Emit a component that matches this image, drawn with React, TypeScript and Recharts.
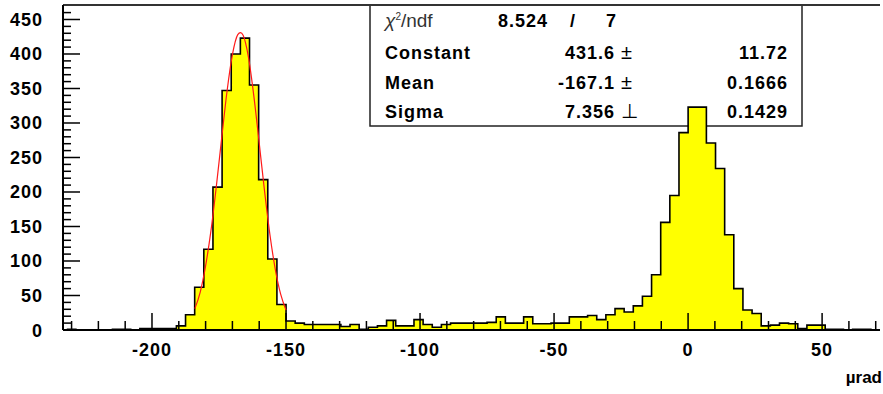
import React from 'react';
import { ComposedChart, Area, Line, XAxis, YAxis, ReferenceLine } from 'recharts';

// histogram counts per bin, left to right
const counts = [
  1, 0, 0, 0, 0, 1, 1, 0, 2, 2, 2, 2, 6, 22, 62, 117, 207, 347, 400, 423,
  355, 218, 103, 37, 13, 10, 8, 8, 8, 8, 5, 8, 1, 4, 6, 14, 6, 6, 15, 8,
  4, 8, 10, 10, 10, 10, 11, 19, 10, 10, 19, 9, 9, 10, 10, 19, 19, 21, 15, 22,
  31, 26, 35, 49, 80, 156, 195, 286, 323, 323, 271, 234, 138, 60, 29, 24, 6, 7, 10, 9,
  2, 7, 7, 1, 1, 0, 1, 1, 0,
];
const binStart = -231.8;
const binWidth = 3.409;

// gaussian fit curve
const fitX = [-184, -182, -180, -178, -176, -174, -172, -170, -168, -167, -166, -164, -162, -160, -158, -156, -154, -152, -150];
const fitY = [31, 55, 93, 144, 208, 278, 346, 399, 428, 431, 427, 395, 339, 271, 201, 138, 88, 52, 29];

const xDomain = [-233.2, 71.6];
const yDomain = [0, 471];

const statsRows = [
  { name: 'Constant', value: '431.6', sep: '±', error: '11.72' },
  { name: 'Mean', value: '-167.1', sep: '±', error: '0.1666' },
  { name: 'Sigma', value: '7.356', sep: '⊥', error: '0.1429' },
];
const chi2 = '8.524';
const ndf = '7';
const xTitle = 'µrad';

const FONT = '"Liberation Sans", Arial, Helvetica, sans-serif';

const xTicks: number[] = [];
for (let v = -230; v <= 70; v += 10) xTicks.push(v);
const yTicks: number[] = [];
for (let v = 0; v <= 460; v += 10) yTicks.push(v);

const rows: { x: number; n?: number; fit?: number }[] = [];
counts.forEach((c, i) => rows.push({ x: binStart + i * binWidth, n: c }));
rows.push({ x: binStart + counts.length * binWidth, n: counts[counts.length - 1] });
fitX.forEach((x, i) => rows.push({ x, fit: fitY[i] }));
rows.sort((a, b) => a.x - b.x);

const XTick = (props: any) => {
  const { x, y, payload } = props;
  const major = payload.value % 50 === 0;
  return (
    <g>
      <line x1={x} x2={x} y1={y} y2={y - (major ? 17 : 9)} stroke="#000" strokeWidth={1.5} />
      {major && (
        <text x={x} y={y + 26} textAnchor="middle" fontFamily={FONT} fontWeight="bold" fontSize={18} letterSpacing={1} fill="#000">
          {payload.value}
        </text>
      )}
    </g>
  );
};

const YTick = (props: any) => {
  const { x, y, payload } = props;
  const major = payload.value % 50 === 0;
  return (
    <g>
      <line x1={x} x2={x + (major ? 17 : 8)} y1={y} y2={y} stroke="#000" strokeWidth={1.5} />
      {major && (
        <text x={x - 20} y={y + 6.5} textAnchor="end" fontFamily={FONT} fontWeight="bold" fontSize={18} letterSpacing={1} fill="#000">
          {payload.value}
        </text>
      )}
    </g>
  );
};

const StatsBox = () => (
  <svg width={883} height={394} style={{ position: 'absolute', left: 0, top: 0 }}>
    <rect x={370} y={5} width={432} height={121} fill="#fff" stroke="#222" strokeWidth={1.5} />
    <text x={385} y={27} fontFamily={FONT} fontSize={19} fill="#333">
      <tspan fontStyle="italic">χ</tspan>
      <tspan fontSize={10} dy={-7}>2</tspan>
      <tspan dy={7}>/ndf</tspan>
    </text>
    <g fontFamily={FONT} fontWeight="bold" fontSize={18} letterSpacing={1} fill="#000">
      <text x={498} y={27}>{chi2}</text>
      <text x={570} y={27}>/</text>
      <text x={606} y={27}>{ndf}</text>
      {statsRows.map((r, i) => {
        const by = 59 + i * 29.5;
        return (
          <g key={r.name}>
            <text x={385} y={by}>{r.name}</text>
            <text x={615} y={by} textAnchor="end">{r.value}</text>
            <text x={621} y={by} fontWeight="normal" fontSize={20}>{r.sep}</text>
            <text x={788} y={by} textAnchor="end">{r.error}</text>
          </g>
        );
      })}
    </g>
  </svg>
);

export default function App() {
  return (
    <div style={{ position: 'absolute', left: 0, top: 0, width: 883, height: 394, background: '#fff' }}>
      <StatsBox />
      <ComposedChart width={883} height={394} data={rows} margin={{ top: 5, right: 3, bottom: 0, left: 0 }}>
        <Area
          dataKey="n"
          type="stepAfter"
          fill="#ffff00"
          fillOpacity={1}
          stroke="#000"
          strokeWidth={1.6}
          connectNulls
          dot={false}
          activeDot={false}
          isAnimationActive={false}
        />
        <Line
          dataKey="fit"
          type="monotone"
          stroke="#ff1a1a"
          strokeWidth={1.2}
          connectNulls
          dot={false}
          activeDot={false}
          isAnimationActive={false}
        />
        <ReferenceLine y={yDomain[1]} stroke="#333" strokeWidth={2} />
        <XAxis
          dataKey="x"
          type="number"
          domain={xDomain}
          allowDataOverflow
          ticks={xTicks}
          interval={0}
          tickSize={0}
          tickMargin={0}
          tick={<XTick />}
          height={64}
          axisLine={{ stroke: '#000', strokeWidth: 2 }}
        />
        <YAxis
          type="number"
          domain={yDomain}
          allowDataOverflow
          ticks={yTicks}
          interval={0}
          tickSize={0}
          tickMargin={0}
          tick={<YTick />}
          width={63}
          axisLine={{ stroke: '#000', strokeWidth: 2 }}
        />
      </ComposedChart>
      <div
        style={{
          position: 'absolute',
          right: 1,
          top: 368,
          fontFamily: FONT,
          fontWeight: 'bold',
          fontSize: 17,
          lineHeight: '20px',
          color: '#000',
        }}
      >
        {xTitle}
      </div>
    </div>
  );
}
